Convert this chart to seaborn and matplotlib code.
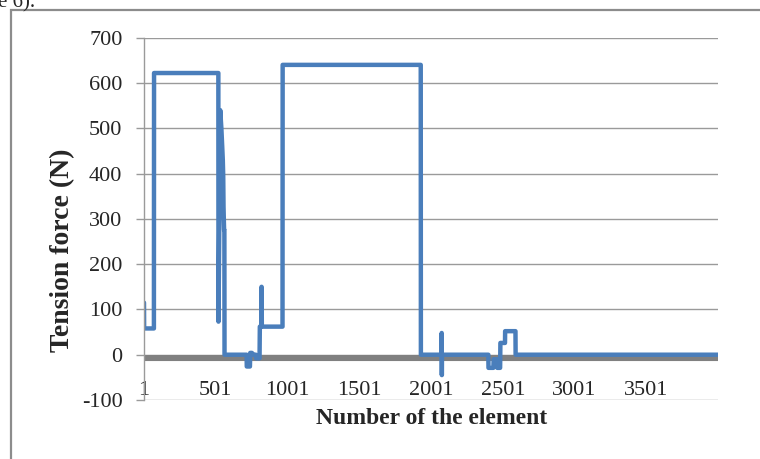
import numpy as np
import pandas as pd
import matplotlib
matplotlib.use('Agg')
import matplotlib.pyplot as plt
import seaborn as sns
from matplotlib.patches import Rectangle

# --- data (element number, tension force in N) ---
element = [1, 2, 70, 71, 519, 520, 532, 540, 546, 550, 553, 555, 557, 559, 561, 562,
           716, 717, 739, 741, 753, 760, 780, 782, 806, 808, 818, 820, 822, 966, 967,
           1929, 1930, 2074, 2075, 2076, 2077, 2400, 2401, 2435, 2437, 2461, 2462,
           2482, 2484, 2516, 2517, 2589, 2590, 4000]
force = [115, 58, 58, 622, 622, 73, 540, 500, 459, 430, 393, 327, 300, 275, 275, 0,
         0, -26, -26, 4, 4, 0, 0, -8, -8, 62, 62, 150, 62, 62, 640,
         640, 0, 0, 48, -45, 0, 0, -29, -29, -10, -10, -29,
         -29, 26, 26, 52, 52, 0, 0]

# second (grey) series, flat just under zero
base_element = [1, 4000]
base_force = [-7, -7]

x_ticks = [1, 501, 1001, 1501, 2001, 2501, 3001, 3501]
y_ticks = [-100, 0, 100, 200, 300, 400, 500, 600, 700]

df = pd.DataFrame({'element': element, 'force': force})
df_base = pd.DataFrame({'element': base_element, 'force': base_force})

sns.set_style('white')
plt.rcParams['font.family'] = ['Liberation Serif', 'DejaVu Serif']
plt.rcParams['axes.unicode_minus'] = False

fig = plt.figure(figsize=(7.6, 4.59), dpi=100)
ax = fig.add_axes([144 / 760, 1 - 400 / 459, 574 / 760, (400 - 37.7) / 459])

grid_col = '#9a9a9a'
ax.set_ylim(-100, 700)
ax.set_xlim(1, 4000)
ax.set_yticks(y_ticks)
ax.yaxis.grid(True, color=grid_col, linewidth=1.0)
ax.set_axisbelow(True)

sns.lineplot(data=df_base, x='element', y='force', ax=ax, color='#808080',
             linewidth=4.4, estimator=None, sort=False, solid_capstyle='butt')
sns.lineplot(data=df, x='element', y='force', ax=ax, color='#4A7EBB',
             linewidth=3.2, estimator=None, sort=False,
             solid_capstyle='round', solid_joinstyle='round')

for s in ['top', 'right']:
    ax.spines[s].set_visible(False)
ax.spines['left'].set_color(grid_col)
ax.spines['left'].set_linewidth(1.0)
ax.spines['bottom'].set_position(('data', 0))
ax.spines['bottom'].set_visible(False)

ax.set_xticks(x_ticks)
ax.tick_params(axis='x', length=0, pad=19, labelsize=16)
ax.tick_params(axis='y', length=5.5, width=1.0, color=grid_col, pad=10,
               labelsize=16, left=True)

ax.set_xlabel('')
ax.set_ylabel('')
fig.text(63 / 760, 1 - 250 / 459, 'Tension force (N)', rotation=90,
         ha='center', va='center', fontsize=20, fontweight='bold')
fig.text(432 / 760, 1 - 418 / 459, 'Number of the element',
         ha='center', va='center', fontsize=17, fontweight='bold')

# caption fragment cut off at the top of the image
fig.text(-2 / 760, 1 - 7 / 459, 'e 6).', ha='left', va='baseline', fontsize=15)

# outer chart frame
fig.patches.append(Rectangle((10.5 / 760, -0.2), 1.5, 1.2 - 9.5 / 459,
                             transform=fig.transFigure, fill=False,
                             edgecolor='#8c8c8c', linewidth=1.6))

fig.savefig('out.png', dpi=100)
